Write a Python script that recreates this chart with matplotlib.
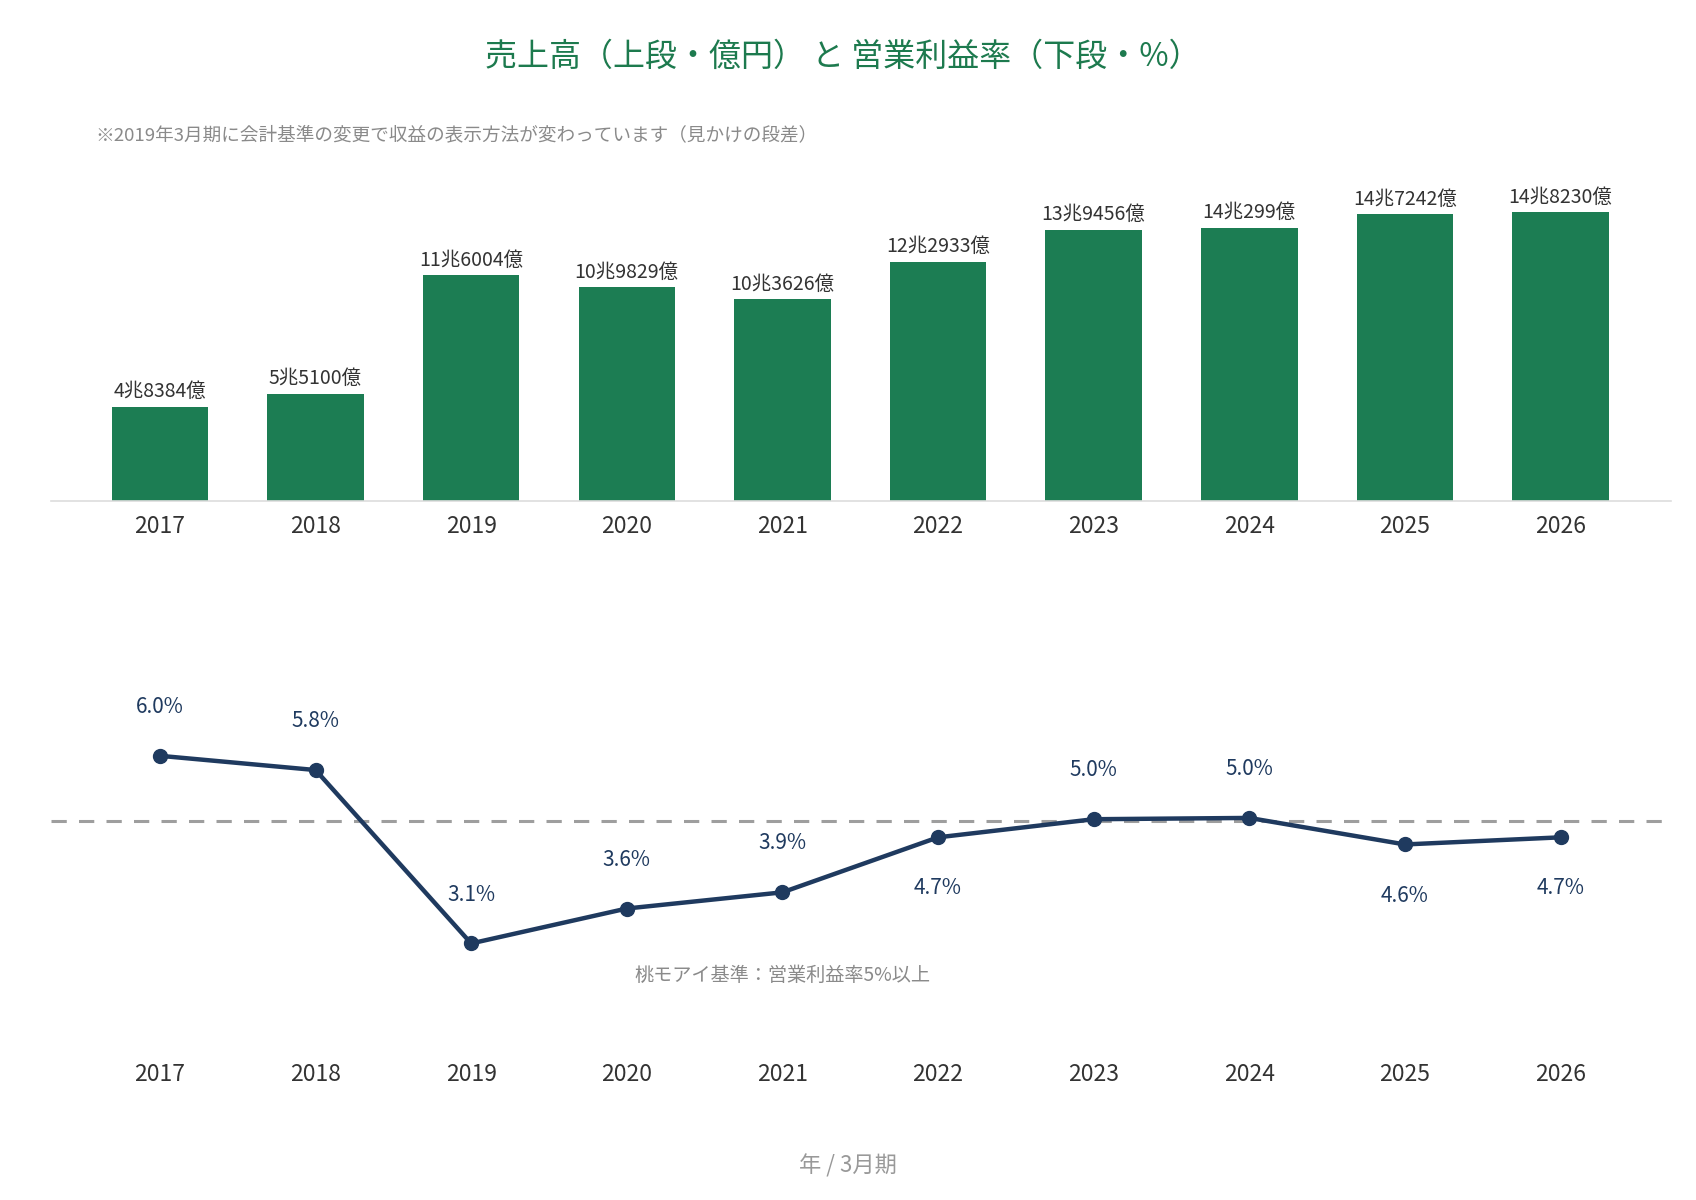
import matplotlib
matplotlib.use("Agg")
import matplotlib.pyplot as plt

plt.rcParams['font.family'] = ['Noto Sans CJK JP', 'DejaVu Sans']

# data (売上高: 億円, 営業利益率: %)
years = ['2017', '2018', '2019', '2020', '2021', '2022', '2023', '2024', '2025', '2026']
sales_oku = [48384, 55100, 116004, 109829, 103626, 122933, 139456, 140299, 147242, 148230]
op_margin = [6.0, 5.78, 3.1, 3.64, 3.89, 4.74, 5.02, 5.04, 4.63, 4.74]
threshold = 5.0

GREEN = '#1c7d53'
TITLE_GREEN = '#1d7a4e'
NAVY = '#1f3a5f'
GRAY = '#8a8a8a'
TEXT = '#333333'


def oku_label(v):
    return f"{v // 10000}兆{v % 10000}億"


fig = plt.figure(figsize=(16.96, 12), dpi=100)
W, H = 1696, 1200

x = list(range(len(years)))
xlim = (-0.70, 9.71)

# upper panel: sales bars
ax1 = fig.add_axes([51 / W, 1 - 501 / H, 1620 / W, 321 / H])
ax1.bar(x, sales_oku, width=0.62, color=GREEN)
for xi, v in zip(x, sales_oku):
    ax1.annotate(oku_label(v), (xi, v), xytext=(0, 10.8), textcoords='offset points',
                 ha='center', va='center', fontsize=14, color=TEXT)
ax1.set_xlim(*xlim)
ax1.set_ylim(0, 164900)
ax1.set_yticks([])
ax1.set_xticks(x)
ax1.set_xticklabels(years, fontsize=16.5, color=TEXT)
ax1.tick_params(axis='x', length=0, pad=10)
for s in ['top', 'right', 'left']:
    ax1.spines[s].set_visible(False)
ax1.spines['bottom'].set_color('#dddddd')
ax1.spines['bottom'].set_linewidth(1.2)

# lower panel: operating margin
ax2 = fig.add_axes([51 / W, 1 - 1049.5 / H, 1620 / W, 449.5 / H])
ax2.axhline(threshold, color='#9e9e9e', linewidth=2.2, dashes=(5, 4))
ax2.plot(x, op_margin, color=NAVY, linewidth=3.2, marker='o', markersize=10,
         solid_capstyle='round', zorder=3)
for xi, v in zip(x, op_margin):
    below = 4.5 < v < threshold
    ax2.annotate(f"{v:.1f}%", (xi, v), xytext=(0, -36.8 if below else 35.2),
                 textcoords='offset points', ha='center', va='center',
                 fontsize=15, color=NAVY)
ax2.text(4, 2.6, '桃モアイ基準：営業利益率5%以上', ha='center', va='center',
         fontsize=13.8, color=GRAY)
ax2.set_xlim(*xlim)
ax2.set_ylim(1.461, 8.408)
ax2.set_yticks([])
ax2.set_xticks(x)
ax2.set_xticklabels(years, fontsize=16.5, color=TEXT)
ax2.tick_params(axis='x', length=0, pad=10)
for s in ax2.spines.values():
    s.set_visible(False)

fig.text(843 / W, 1 - 57 / H, '売上高（上段・億円） と 営業利益率（下段・%）',
         ha='center', va='center', fontsize=23, color=TITLE_GREEN)
fig.text(95 / W, 1 - 135 / H, '※2019年3月期に会計基準の変更で収益の表示方法が変わっています（見かけの段差）',
         ha='left', va='center', fontsize=13.4, color=GRAY)
fig.text(848 / W, 1 - 1166 / H, '年 / 3月期', ha='center', va='center',
         fontsize=16, color='#999999')

fig.savefig('out.png', dpi=100)
